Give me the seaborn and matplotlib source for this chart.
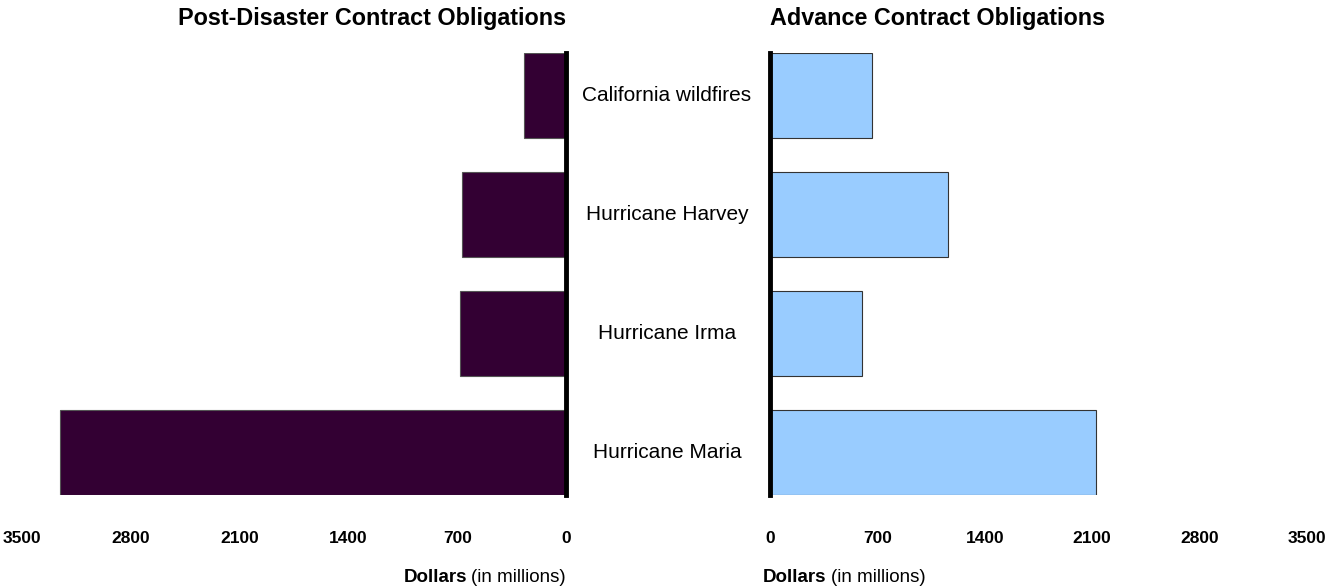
import matplotlib
matplotlib.use("Agg")
import matplotlib.pyplot as plt
import seaborn as sns
import pandas as pd

categories = ["California wildfires", "Hurricane Harvey", "Hurricane Irma", "Hurricane Maria"]
post_disaster = [270, 670, 680, 3255]
advance = [665, 1160, 600, 2125]
ticks = [0, 700, 1400, 2100, 2800, 3500]
tick_labels = ["0", "700", "1400", "2100", "2800", "3500"]

sns.set_theme(style="white")
plt.rcParams['font.family'] = ['Liberation Sans', 'DejaVu Sans']
plt.rcParams['text.color'] = 'black'
plt.rcParams['xtick.color'] = 'black'
plt.rcParams['axes.labelcolor'] = 'black'

df_post = pd.DataFrame({"event": categories, "value": post_disaster})
df_adv = pd.DataFrame({"event": categories, "value": advance})

W, H = 1334, 587
fig = plt.figure(figsize=(W / 100, H / 100), dpi=100)
top_px, bot_px = 53, 495
ax_l = fig.add_axes([22 / W, 1 - bot_px / H, (566 - 22) / W, (bot_px - top_px) / H])
ax_r = fig.add_axes([770 / W, 1 - bot_px / H, (1307 - 770) / W, (bot_px - top_px) / H])

bw = 0.715
sns.barplot(data=df_post, x="value", y="event", orient="h", ax=ax_l,
            color="#330033", edgecolor="#555555", linewidth=0.8, width=bw, saturation=1)
sns.barplot(data=df_adv, x="value", y="event", orient="h", ax=ax_r,
            color="#99CCFF", edgecolor="#333333", linewidth=0.8, width=bw, saturation=1)

for ax in (ax_l, ax_r):
    ax.set_ylim(len(categories) - 1 + bw / 2, -bw / 2)
    ax.set_xlim(0, 3500)
    ax.set_xticks(ticks)
    ax.set_xticklabels(tick_labels, fontsize=12.5, fontweight="bold", color="black")
    ax.tick_params(axis="x", length=0, pad=26)
    ax.set_yticks([])
    ax.set_ylabel("")
    ax.set_xlabel("")
    for s in ax.spines.values():
        s.set_visible(False)

ax_l.invert_xaxis()
ax_l.spines["right"].set_visible(True)
ax_l.spines["right"].set_linewidth(3.5)
ax_l.spines["right"].set_color("black")
ax_r.spines["left"].set_visible(True)
ax_r.spines["left"].set_linewidth(3.5)
ax_r.spines["left"].set_color("black")

# category labels centered between panels
for i, c in enumerate(categories):
    ax_r.text((667 - 770) / (1307 - 770), i, c, transform=ax_r.get_yaxis_transform(),
              ha="center", va="center", fontsize=15, color="black")

ax_l.set_title("Post-Disaster Contract Obligations", loc="right", fontsize=16.8,
               fontweight="bold", pad=20, color="black")
ax_r.set_title("Advance Contract Obligations", loc="left", fontsize=16.8,
               fontweight="bold", pad=20, color="black")

# x axis labels: "Dollars" bold + "(in millions)" regular
ylab = 1 - 578 / H
t_l_reg = fig.text(566 / W, ylab, "(in millions)", ha="right", va="center", fontsize=13.5)
t_r_bold = fig.text(763 / W, ylab, "Dollars", ha="left", va="center", fontsize=13.5, fontweight="bold")

fig.canvas.draw()
r = fig.canvas.get_renderer()
bb = t_l_reg.get_window_extent(r)
fig.text((bb.x0 - 4) / W, ylab, "Dollars", ha="right", va="center", fontsize=13.5, fontweight="bold")
bb2 = t_r_bold.get_window_extent(r)
fig.text((bb2.x1 + 4) / W, ylab, "(in millions)", ha="left", va="center", fontsize=13.5)

fig.savefig("out.png", dpi=100, facecolor="white")
